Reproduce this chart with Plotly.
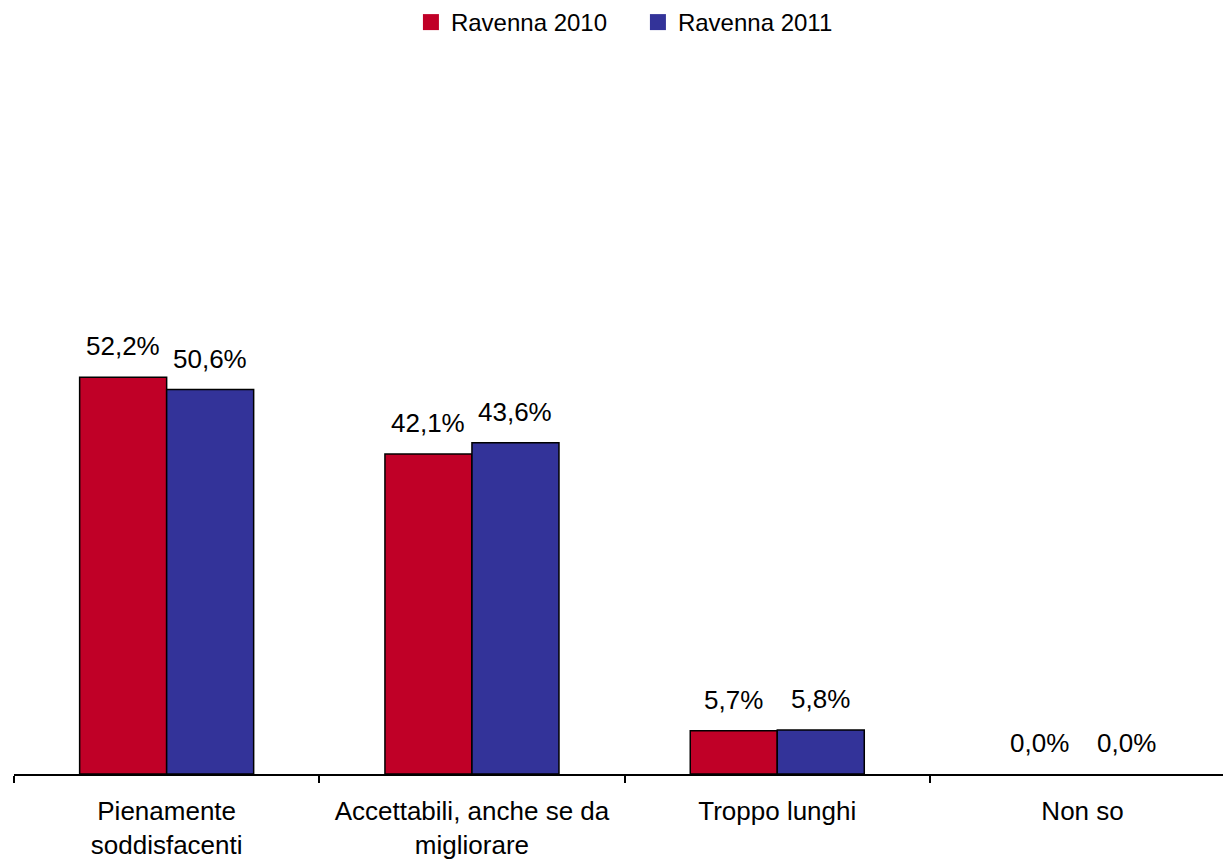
import plotly.graph_objects as go

categories = ["Pienamente<br>soddisfacenti", "Accettabili, anche se da<br>migliorare", "Troppo lunghi", "Non so"]
series_names = ["Ravenna 2010", "Ravenna 2011"]
values_2010 = [52.2, 42.1, 5.7, 0.0]
values_2011 = [50.6, 43.6, 5.8, 0.0]
colors = ["#C00027", "#333399"]

FONT = "Liberation Sans, Arial, sans-serif"

fig = go.Figure()
for name, vals, col in zip(series_names, [values_2010, values_2011], colors):
    fig.add_trace(go.Bar(
        x=categories, y=vals, name=name, showlegend=False,
        marker=dict(color=col, line=dict(color="#000000", width=[1.5 if v > 0 else 0 for v in vals])),
        hoverinfo="skip",
    ))
    # legend entry with a larger square swatch
    fig.add_trace(go.Scatter(
        x=[None], y=[None], mode="markers", name=name,
        marker=dict(symbol="square", size=17, color=col),
        hoverinfo="skip",
    ))

# data labels
bar_px = 87.0
for i, vals in enumerate([values_2010, values_2011]):
    shift = (-0.5 if i == 0 else 0.5) * bar_px
    for cat, v in zip(categories, vals):
        fig.add_annotation(
            x=cat, y=v, xref="x", yref="y",
            text=f"{v:.1f}%".replace(".", ","),
            showarrow=False, xshift=shift, yanchor="bottom", yshift=14,
            font=dict(family=FONT, size=26, color="#000000"),
        )

fig.update_layout(
    width=1223, height=861,
    margin=dict(l=14, r=0, t=40, b=87, autoexpand=False),
    paper_bgcolor="white", plot_bgcolor="white",
    barmode="group", bargap=0.43, bargroupgap=0,
    font=dict(family=FONT, size=26, color="#000000"),
    showlegend=True,
    legend=dict(orientation="h", xref="container", yref="container",
                x=0.336, xanchor="left", y=1.0, yanchor="top",
                font=dict(family=FONT, size=24, color="#000000"),
                itemwidth=30, tracegroupgap=0,
                entrywidth=182, entrywidthmode="pixels"),
    xaxis=dict(
        range=[-0.5, 3.46],
        automargin=False,
        showline=True, linecolor="#000000", linewidth=2,
        ticks="outside", tickson="boundaries", ticklen=7, tickwidth=2, tickcolor="#000000",
        showgrid=False, zeroline=False,
        tickfont=dict(family=FONT, size=26, color="#000000"),
        ticklabelstandoff=13,
        fixedrange=True,
    ),
    yaxis=dict(range=[0, 96.6], automargin=False, visible=False, showgrid=False, zeroline=False, fixedrange=True),
)

fig.write_html(
    "out.html",
    config={"displayModeBar": False, "staticPlot": True},
    post_script="document.body.style.margin='0';document.body.style.overflow='hidden';",
)
